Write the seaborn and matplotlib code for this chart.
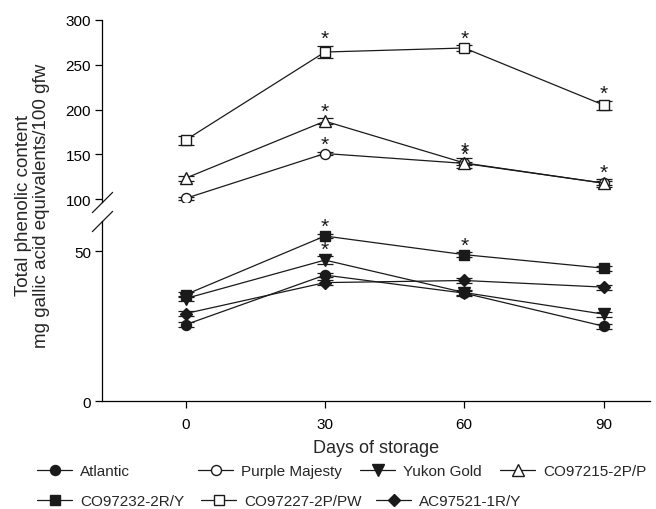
import matplotlib
matplotlib.use("Agg")
import matplotlib.pyplot as plt
import seaborn as sns

# Storage time (days)
days = [0, 30, 60, 90]

# Total phenolic content (mg gallic acid equivalents / 100 g fw)
atlantic = [25.5, 42.0, 36.0, 25.0]
purple_majesty = [101.0, 151.0, 140.0, 118.0]
yukon_gold = [34.2, 47.0, 36.2, 29.0]
co97215 = [123.5, 187.0, 140.5, 118.0]
co97232 = [35.5, 55.0, 48.8, 44.3]
co97227 = [166.0, 264.0, 268.5, 205.0]
ac97521 = [29.2, 39.5, 40.2, 38.0]

# Standard errors
atlantic_se = [0.8, 0.8, 0.8, 0.8]
purple_majesty_se = [2.0, 2.0, 2.0, 2.0]
yukon_gold_se = [0.8, 1.2, 0.8, 0.8]
co97215_se = [3.0, 3.5, 6.0, 4.5]
co97232_se = [0.8, 0.8, 0.8, 0.8]
co97227_se = [5.0, 7.0, 3.0, 5.0]
ac97521_se = [0.8, 0.8, 0.8, 0.8]

# Significant differences (days marked with *)
atlantic_sig = []
purple_majesty_sig = [30, 60]
yukon_gold_sig = [30]
co97215_sig = [30, 60, 90]
co97232_sig = [30, 60]
co97227_sig = [30, 60, 90]
ac97521_sig = []

series = [
    # name, values, se, sig, marker, filled, panel
    ("Atlantic", atlantic, atlantic_se, atlantic_sig, "o", True, "low"),
    ("Purple Majesty", purple_majesty, purple_majesty_se, purple_majesty_sig, "o", False, "high"),
    ("Yukon Gold", yukon_gold, yukon_gold_se, yukon_gold_sig, "v", True, "low"),
    ("CO97215-2P/P", co97215, co97215_se, co97215_sig, "^", False, "high"),
    ("CO97232-2R/Y", co97232, co97232_se, co97232_sig, "s", True, "low"),
    ("CO97227-2P/PW", co97227, co97227_se, co97227_sig, "s", False, "high"),
    ("AC97521-1R/Y", ac97521, ac97521_se, ac97521_sig, "D", True, "low"),
]

sns.set_theme(style="ticks")
plt.rcParams["font.family"] = ["Liberation Sans", "DejaVu Sans"]
plt.rcParams["axes.linewidth"] = 0.9
plt.rcParams["xtick.major.width"] = 0.9
plt.rcParams["ytick.major.width"] = 0.9
plt.rcParams["xtick.color"] = "black"
plt.rcParams["ytick.color"] = "black"
plt.rcParams["axes.edgecolor"] = "black"

ink = "#1a1a1a"

fig = plt.figure(figsize=(6.56, 5.10), dpi=100)
left, right = 102 / 656, 650 / 656
ax_hi = fig.add_axes([left, 1 - 203 / 510, right - left, (203 - 20.7) / 510])
ax_lo = fig.add_axes([left, 1 - 402.3 / 510, right - left, (402.3 - 222) / 510])

handles = {}
for name, vals, se, sig, mk, filled, panel in series:
    ax = ax_hi if panel == "high" else ax_lo
    ms = 6.2 if mk == "D" else (8 if mk in ("^", "v") else 7.2)
    ax.errorbar(days, vals, yerr=se, fmt="none", ecolor=ink, elinewidth=0.9,
                capsize=6, capthick=0.9, zorder=2)
    sns.lineplot(x=days, y=vals, ax=ax, color=ink, linewidth=0.9,
                 marker=mk, markersize=ms,
                 markerfacecolor=ink if filled else "white",
                 markeredgecolor=ink, markeredgewidth=1.0,
                 label=name, legend=False, zorder=3)
    handles[name] = ax.lines[-1]
    for d in sig:
        i = days.index(d)
        ax.annotate("*", xy=(d, vals[i] + se[i]), xytext=(0, 5),
                    textcoords="offset points", ha="center", va="center",
                    fontsize=15, color=ink, zorder=4)

for ax in (ax_hi, ax_lo):
    ax.set_xlim(-18, 100)
    sns.despine(ax=ax)
    ax.tick_params(axis="y", length=5, pad=3, labelsize=11)
    ax.set_ylabel("")
    ax.set_xlabel("")

ax_hi.set_ylim(97, 300)
ax_hi.set_yticks([100, 150, 200, 250, 300])
ax_hi.spines["bottom"].set_visible(False)
ax_hi.tick_params(axis="x", bottom=False, labelbottom=False)

ax_lo.set_ylim(0, 60)
ax_lo.set_yticks([0, 50])
ax_lo.set_xticks(days)
ax_lo.tick_params(axis="x", length=5, pad=6, labelsize=11)
ax_lo.set_xlabel("Days of storage", fontsize=13, labelpad=6)

# Axis break marks
brk = dict(marker=[(-1, -1), (1, 1)], markersize=15, linestyle="none",
           color=ink, mec=ink, mew=0.9, clip_on=False)
ax_hi.plot([0], [0], transform=ax_hi.transAxes, **brk)
ax_lo.plot([0], [1], transform=ax_lo.transAxes, **brk)

fig.text(32.5 / 656, 1 - 206 / 510,
         "Total phenolic content\nmg gallic acid equivalents/100 gfw",
         rotation=90, ha="center", va="center", multialignment="center",
         fontsize=13.5, linespacing=1.15)

# Legend: two rows of entries, each entry anchored at its own left edge
legend_rows = [
    (472, [("Atlantic", 37), ("Purple Majesty", 198), ("Yukon Gold", 360),
           ("CO97215-2P/P", 500)]),
    (502, [("CO97232-2R/Y", 37), ("CO97227-2P/PW", 201), ("AC97521-1R/Y", 376)]),
]
for ypix, entries in legend_rows:
    for name, xpix in entries:
        fig.legend([handles[name]], [name], frameon=False,
                   loc="center left", bbox_to_anchor=(xpix / 656, 1 - ypix / 510),
                   borderpad=0, borderaxespad=0, fontsize=11, handlelength=2.3,
                   handletextpad=0.5)

fig.savefig("out.png", dpi=100)
